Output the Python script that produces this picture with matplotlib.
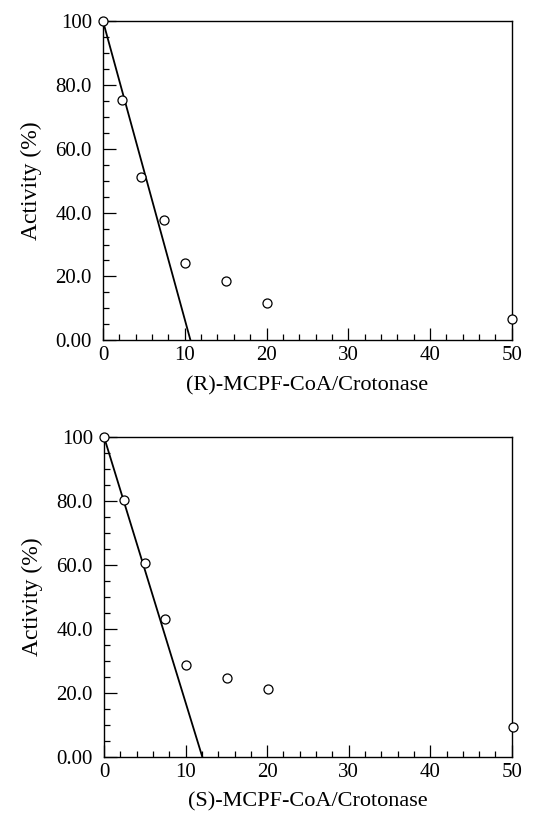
import matplotlib
matplotlib.use("Agg")
import matplotlib.pyplot as plt
from matplotlib.ticker import MultipleLocator

plt.rcParams['font.family'] = ['Liberation Serif', 'DejaVu Serif']

# (R)-MCPF-CoA panel
r_ratio = [0, 2.3, 4.6, 7.5, 10, 15, 20, 50]
r_activity = [100, 75.4, 51.1, 37.7, 24.2, 18.6, 11.8, 6.6]
r_fit_x = [0, 10.7]
r_fit_y = [100, 0]

# (S)-MCPF-CoA panel
s_ratio = [0, 2.5, 5.05, 7.5, 10.05, 15.1, 20.05, 50.1]
s_activity = [100, 80.3, 60.8, 43.1, 28.7, 24.6, 21.3, 9.3]
s_fit_x = [0, 12.05]
s_fit_y = [100, 0]

yticks = [0, 20, 40, 60, 80, 100]
ylabels = ["0.00", "20.0", "40.0", "60.0", "80.0", "100"]
xticks = [0, 10, 20, 30, 40, 50]

fig = plt.figure(figsize=(5.45, 8.14), dpi=100)
ax1 = fig.add_axes([0.189, 0.582, 0.750, 0.392])
ax2 = fig.add_axes([0.191, 0.070, 0.748, 0.393])

panels = [(ax1, r_ratio, r_activity, r_fit_x, r_fit_y, "(R)-MCPF-CoA/Crotonase"),
          (ax2, s_ratio, s_activity, s_fit_x, s_fit_y, "(S)-MCPF-CoA/Crotonase")]

for ax, x, y, fx, fy, xl in panels:
    ax.plot(fx, fy, color="black", lw=1.3)
    ax.plot(x, y, "o", mfc="white", mec="black", ms=6.5, mew=0.9, clip_on=False, zorder=5)
    ax.set_xlim(0, 50)
    ax.set_ylim(0, 100)
    ax.set_xticks(xticks)
    ax.set_yticks(yticks)
    ax.set_yticklabels(ylabels)
    ax.xaxis.set_minor_locator(MultipleLocator(2))
    ax.yaxis.set_minor_locator(MultipleLocator(5))
    ax.tick_params(which="both", direction="in", top=False, right=False, labelsize=15, width=0.9)
    ax.tick_params(which="major", length=9)
    ax.tick_params(which="minor", length=4.5)
    ax.tick_params(axis="x", pad=4)
    ax.tick_params(axis="y", pad=8)
    ax.set_xlabel(xl, fontsize=16, labelpad=8)
    ax.set_ylabel("Activity (%)", fontsize=17, labelpad=10)
    for s in ax.spines.values():
        s.set_linewidth(1.0)

fig.savefig("out.png", dpi=100)
